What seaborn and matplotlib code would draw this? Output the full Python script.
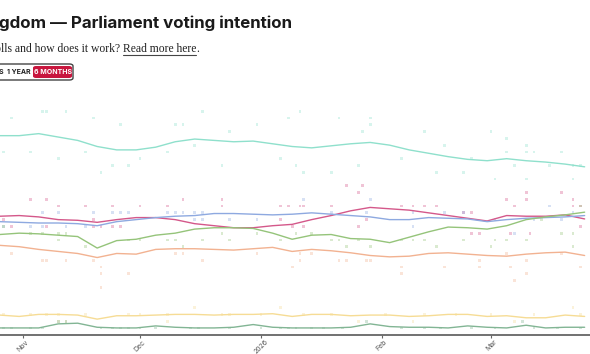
import numpy as np
import pandas as pd
import matplotlib
matplotlib.use("Agg")
import matplotlib.pyplot as plt
from matplotlib.patches import FancyBboxPatch
from matplotlib.lines import Line2D
import seaborn as sns

# trend lines, one value every 5 days from 26 Oct 2025
dates = pd.date_range("2025-10-26", periods=31, freq="5D")
reform = [29.4, 29.4, 29.7, 29.2, 28.7, 27.8, 27.3, 27.3, 27.7, 28.5, 28.9, 28.7, 28.5, 28.6, 28.2, 27.8,
          27.6, 27.9, 28.2, 28.4, 28.0, 27.3, 26.8, 26.3, 25.9, 25.7, 26.0, 25.7, 25.5, 25.2, 24.8]
labour = [17.5, 17.6, 17.4, 17.0, 16.9, 16.6, 17.0, 17.3, 17.3, 17.0, 16.4, 16.1, 15.8, 15.8, 16.1, 16.3,
          17.0, 17.6, 18.3, 18.8, 18.6, 18.4, 18.0, 17.6, 17.2, 16.8, 17.6, 17.5, 17.5, 17.7, 17.1]
conservative = [16.7, 16.6, 16.5, 16.5, 16.4, 16.1, 16.7, 17.0, 17.3, 17.5, 17.6, 17.9, 17.9, 17.8, 17.7, 17.8,
                18.0, 17.8, 17.6, 17.4, 17.0, 17.0, 17.3, 17.2, 17.1, 16.7, 17.0, 17.2, 17.3, 17.4, 17.6]
green = [14.8, 15.0, 14.9, 14.7, 14.5, 12.8, 13.9, 14.1, 14.7, 15.0, 15.6, 15.8, 15.8, 15.7, 15.0, 14.1,
         14.7, 14.8, 14.2, 14.1, 13.6, 14.4, 15.2, 15.9, 15.8, 15.6, 16.1, 17.0, 17.4, 17.7, 18.1]
libdem = [13.2, 13.0, 12.6, 12.3, 12.0, 11.4, 12.0, 11.9, 12.6, 12.7, 12.7, 12.6, 12.5, 12.7, 12.9, 12.3,
          12.6, 12.4, 12.1, 11.7, 11.5, 11.6, 12.0, 12.1, 11.9, 11.7, 11.6, 11.9, 12.1, 12.2, 11.7]
snp = [2.9, 2.7, 3.0, 3.0, 2.9, 2.3, 2.8, 2.8, 2.9, 3.0, 3.0, 2.9, 3.0, 3.0, 3.1, 2.7,
       3.0, 3.0, 2.8, 2.9, 2.9, 2.7, 2.8, 3.0, 3.0, 2.7, 2.8, 2.5, 2.5, 2.9, 2.7]
plaid = [1.0, 1.0, 1.0, 1.6, 1.7, 1.1, 1.0, 1.0, 1.3, 1.1, 1.0, 1.0, 1.1, 1.5, 1.1, 1.0,
         1.0, 1.0, 1.1, 1.6, 1.2, 1.1, 1.1, 1.0, 1.3, 1.1, 1.0, 1.4, 1.0, 1.1, 1.1]

# individual polls (month-day, %)
reform_poll_days = ["10-27", "10-29", "11-03", "11-06", "11-07", "11-10", "11-12", "11-17", "11-19", "11-21",
                    "11-24", "11-26", "11-28", "12-01", "12-08", "12-10", "12-12", "12-15", "12-17", "12-22",
                    "12-24", "12-31", "01-06", "01-08", "01-10", "01-11", "01-12", "01-19", "01-21", "01-26",
                    "01-27", "01-29", "01-29", "02-06", "02-12", "02-15", "02-17", "02-22", "02-24", "03-01",
                    "03-02", "03-05", "03-05", "03-07", "03-10", "03-10", "03-10", "03-12", "03-16", "03-19",
                    "03-22", "03-22", "03-24"]
reform_poll_vals = [27, 32, 27, 33, 33, 26, 33, 27, 32, 24, 25, 31, 25, 26, 27, 31, 31, 28, 33, 25,
                    30, 31, 26, 32, 25, 33, 24, 24, 32, 25, 30, 32, 31, 26, 30, 24, 28, 24, 26, 30,
                    23, 27, 29, 25, 27, 28, 23, 27, 25, 27, 25, 23, 25]
labour_poll_days = ["10-27", "10-29", "11-03", "11-07", "11-07", "11-10", "11-17", "11-19", "11-19", "11-21",
                    "11-24", "11-24", "11-26", "12-01", "12-08", "12-12", "12-22", "12-22", "01-06", "01-06",
                    "01-08", "01-09", "01-11", "01-12", "01-12", "01-19", "01-23", "01-26", "01-26", "01-27",
                    "01-28", "02-06", "02-09", "02-12", "02-15", "02-22", "02-24", "02-24", "02-26", "03-05",
                    "03-06", "03-07", "03-10", "03-10", "03-11", "03-19", "03-22", "03-22", "03-24", "03-24"]
labour_poll_vals = [17, 16, 20, 20, 16, 19, 19, 17, 16, 16, 19, 16, 16, 19, 19, 20, 20, 19, 19, 17,
                    19, 16, 19, 19, 16, 19, 22, 21, 16, 22, 17, 19, 19, 19, 19, 18, 18, 15, 15, 20,
                    15, 19, 20, 21, 15, 21, 20, 19, 19, 16]
con_poll_days = ["10-27", "11-03", "11-06", "11-06", "11-10", "11-12", "11-17", "11-19", "11-24", "11-26",
                 "11-28", "12-08", "12-10", "12-12", "12-15", "12-15", "12-17", "12-17", "12-24", "12-31",
                 "01-12", "01-19", "01-28", "01-29", "02-09", "02-09", "02-17", "02-22", "03-02", "03-07",
                 "03-12", "03-16", "03-19", "03-22"]
con_poll_vals = [16, 16, 18, 16, 18, 16, 16, 18, 18, 18, 18, 18, 18, 18, 18, 17, 18, 17, 17, 17,
                 20, 18, 18, 20, 18, 16, 18, 18, 17, 15, 17, 19, 17, 18]
green_poll_days = ["10-27", "11-03", "11-06", "11-10", "11-10", "11-12", "11-17", "11-28", "12-01", "12-08",
                   "12-10", "12-12", "12-17", "12-22", "12-24", "12-31", "01-06", "01-10", "01-14", "01-19",
                   "01-21", "01-23", "01-26", "01-29", "02-06", "02-09", "02-12", "02-15", "02-22", "03-01",
                   "03-02", "03-05", "03-10", "03-14", "03-19", "03-22", "03-22", "03-24"]
green_poll_vals = [16, 15, 15, 15, 14, 15, 13, 14, 14, 14, 14, 13, 14, 15, 14, 15, 14, 15, 15, 14,
                   14, 13, 14, 13, 14, 14, 14, 13, 14, 13, 14, 14, 14, 17, 15, 15, 13, 19]
libdem_poll_days = ["10-29", "11-06", "11-07", "11-12", "11-19", "11-21", "11-21", "11-21", "11-28", "12-10",
                    "12-12", "12-17", "12-31", "01-09", "01-11", "01-11", "01-14", "01-21", "01-23", "01-28",
                    "01-29", "02-06", "02-06", "02-17", "02-26", "02-26", "03-05", "03-06", "03-07", "03-10",
                    "03-10", "03-19", "03-24"]
libdem_poll_vals = [12, 11, 11, 11, 11, 10, 9, 7, 9, 12, 12, 11, 12, 10, 11, 12, 12, 11, 11, 11,
                    11, 10, 9, 10, 10, 11, 12, 10, 8, 9, 11, 12, 10]
snp_poll_days = ["10-27", "11-03", "11-07", "11-10", "11-10", "11-12", "11-17", "11-28", "12-01", "12-08",
                 "12-08", "12-15", "12-22", "12-24", "01-01", "01-06", "01-12", "01-19", "01-26", "02-02",
                 "02-09", "02-12", "02-20", "03-01", "03-07", "03-12", "03-22", "03-24"]
snp_poll_vals = [3, 3, 3, 3, 2, 2, 3, 3, 3, 3, 2, 4, 3, 3, 3, 4, 3, 3, 2, 3,
                 2, 3, 3, 3, 2, 3, 4, 3]
plaid_poll_days = ["10-27", "10-29", "11-03", "11-06", "11-10", "11-12", "11-21", "11-24", "11-26", "11-28",
                   "12-01", "12-05", "12-14", "12-16", "12-24", "01-01", "01-06", "01-08", "01-10", "01-14",
                   "01-17", "01-22", "01-28", "02-06", "02-12", "02-16", "02-24", "03-02", "03-09", "03-12",
                   "03-18", "03-24"]
plaid_poll_vals = [1, 1, 1, 1, 2, 2, 1, 1, 1, 1, 1, 1, 1, 1, 1, 1, 1, 1, 1, 1,
                   1, 1, 2, 1, 1, 1, 1, 1, 2, 1, 1, 1]

tick_dates = ["2025-11-01", "2025-12-01", "2026-01-01", "2026-02-01", "2026-03-01"]
tick_labels = ["Nov", "Dec", "2026", "Feb", "Mar"]

parties = ["Reform UK", "Labour", "Conservative", "Green", "Liberal Democrats", "SNP", "Plaid Cymru"]
colors = ["#8fe0cc", "#d4588a", "#8ea9e0", "#95c47a", "#f2b291", "#f6dc95", "#82b594"]


def to_date(md):
    year = "2026" if md[:2] in ("01", "02", "03") else "2025"
    return pd.Timestamp(year + "-" + md)


trend = [reform, labour, conservative, green, libdem, snp, plaid]
poll_days = [reform_poll_days, labour_poll_days, con_poll_days, green_poll_days,
             libdem_poll_days, snp_poll_days, plaid_poll_days]
poll_vals = [reform_poll_vals, labour_poll_vals, con_poll_vals, green_poll_vals,
             libdem_poll_vals, snp_poll_vals, plaid_poll_vals]

lines = pd.concat([pd.DataFrame({"date": dates, "share": v, "party": p}) for p, v in zip(parties, trend)])
polls = pd.concat([pd.DataFrame({"date": [to_date(d) for d in dd], "share": vv, "party": p})
                   for p, dd, vv in zip(parties, poll_days, poll_vals)])
pal = dict(zip(parties, colors))

sns.set_theme(style="white")
plt.rcParams["font.family"] = ["Inter", "DejaVu Sans"]

fig = plt.figure(figsize=(5.9, 3.54), dpi=100)
ax = fig.add_axes([0, 0.0545, 1, 0.7076])

sns.scatterplot(data=polls, x="date", y="share", hue="party", palette=pal, s=4, marker="s",
                linewidth=0, alpha=0.35, legend=False, ax=ax)
sns.lineplot(data=lines, x="date", y="share", hue="party", palette=pal, linewidth=1.0,
             legend=False, ax=ax)

ax.set_xlim(pd.Timestamp("2025-10-26 02:00"), pd.Timestamp("2026-03-26 09:00"))
ax.set_ylim(0, 37)
ax.set_xlabel("")
ax.set_ylabel("")
ax.set_yticks([])
ax.set_xticks(pd.to_datetime(tick_dates))
ax.set_xticklabels(tick_labels, rotation=45, ha="center", fontsize=5, color="#555555")
ax.tick_params(axis="x", length=2.5, width=0.8, color="#666666", pad=0.5, bottom=True)
sns.despine(ax=ax, left=True)
ax.spines["bottom"].set_color("#666666")
ax.spines["bottom"].set_linewidth(1.3)
ax.patch.set_alpha(0)

# header, cut off on the left as in the page
W, H = 590, 354
fig.text(292 / W, 1 - 28 / H, "United Kingdom \u2014 Parliament voting intention", ha="right",
         va="baseline", fontsize=12.2, fontweight="bold", color="#1a1a1a")

renderer = fig.canvas.get_renderer()
sy = 1 - 52 / H
serif = ["Liberation Serif", "DejaVu Serif"]
fs = 8.4
t3 = fig.text(199 / W, sy, ".", ha="right", va="baseline", fontsize=fs, family=serif, color="#222222")
x3 = t3.get_window_extent(renderer).x0
t2 = fig.text(x3 / W, sy, "Read more here", ha="right", va="baseline", fontsize=fs, family=serif,
              color="#222222")
bb2 = t2.get_window_extent(renderer)
fig.text(bb2.x0 / W, sy, "What are polls and how does it work? ", ha="right", va="baseline",
         fontsize=fs, family=serif, color="#222222")
fig.add_artist(Line2D([bb2.x0 / W, bb2.x1 / W], [sy - 2.5 / H, sy - 2.5 / H], color="#444444", lw=0.8))

# range buttons
fig.add_artist(FancyBboxPatch((-20 / W, 1 - 80 / H), 93 / W, 16 / H,
                              boxstyle="round,pad=0,rounding_size=0.006", fc="white", ec="#444444", lw=1))
fig.add_artist(FancyBboxPatch((33 / W, 1 - 78 / H), 39 / W, 12 / H,
                              boxstyle="round,pad=0,rounding_size=0.005", fc="#c8163e", ec="none"))
by = 1 - 72 / H
fig.text(4 / W, by, "5 YEARS", ha="right", va="center", fontsize=5, fontweight="bold", color="#222222")
fig.text(18.5 / W, by, "1 YEAR", ha="center", va="center", fontsize=5, fontweight="bold", color="#222222")
fig.text(52.5 / W, by, "6 MONTHS", ha="center", va="center", fontsize=5, fontweight="bold", color="white")

fig.savefig("out.png", dpi=100)
